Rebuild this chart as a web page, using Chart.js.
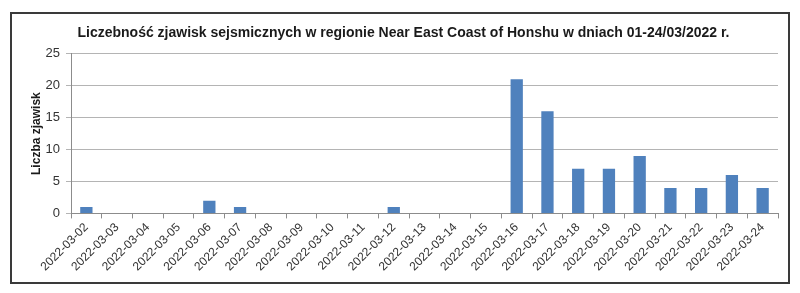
<!DOCTYPE html>
<html lang="pl">
<head>
    <meta charset="UTF-8">
    <title>Liczebność zjawisk sejsmicznych</title>
    <script src="https://cdn.jsdelivr.net/npm/chart.js"></script>
    <style>
        body { margin: 0; background: #fff; }
        #box {
            position: absolute; left: 10px; top: 12px;
            width: 776px; height: 268px;
            border: 2px solid #3a3a3a;
        }
    </style>
</head>
<body>

<div id="box">
    <canvas id="chart"></canvas>
</div>

<script>
    // dane
    const days = ['2022-03-02', '2022-03-03', '2022-03-04', '2022-03-05', '2022-03-06', '2022-03-07',
        '2022-03-08', '2022-03-09', '2022-03-10', '2022-03-11', '2022-03-12', '2022-03-13',
        '2022-03-14', '2022-03-15', '2022-03-16', '2022-03-17', '2022-03-18', '2022-03-19',
        '2022-03-20', '2022-03-21', '2022-03-22', '2022-03-23', '2022-03-24'];
    const counts = [1, 0, 0, 0, 2, 1, 0, 0, 0, 0, 1, 0, 0, 0, 21, 16, 7, 7, 9, 4, 4, 6, 4];

    const ctx = document.getElementById('chart').getContext('2d');
    new Chart(ctx, {
        type: 'bar',
        data: {
            labels: days,
            datasets: [{
                label: 'Liczba zjawisk',
                data: counts,
                backgroundColor: '#4f81bd',
                categoryPercentage: 1,
                barPercentage: 0.4
            }]
        },
        options: {
            responsive: true,
            maintainAspectRatio: false,
            animation: false,
            layout: { padding: { left: 17, right: 10, top: 0, bottom: 6 } },
            plugins: {
                legend: { display: false },
                tooltip: { enabled: false },
                title: {
                    display: true,
                    text: 'Liczebność zjawisk sejsmicznych w regionie Near East Coast of Honshu w dniach 01-24/03/2022 r.',
                    color: '#1a1a1a',
                    font: { family: 'Liberation Sans', size: 14, weight: 'bold' },
                    padding: { top: 11, bottom: 12 }
                }
            },
            scales: {
                x: {
                    grid: {
                        offset: true,
                        drawOnChartArea: false,
                        tickLength: 5,
                        color: '#8c8c8c'
                    },
                    border: { color: '#8c8c8c' },
                    ticks: {
                        minRotation: 45,
                        maxRotation: 45,
                        autoSkip: false,
                        color: '#333',
                        padding: 2,
                        font: { family: 'Liberation Sans', size: 12 }
                    }
                },
                y: {
                    min: 0,
                    max: 25,
                    ticks: {
                        stepSize: 5,
                        color: '#333',
                        padding: 6,
                        font: { family: 'Liberation Sans', size: 13 }
                    },
                    grid: { color: '#b4b4b4', tickLength: 5 },
                    border: { color: '#8c8c8c' },
                    title: {
                        display: true,
                        text: 'Liczba zjawisk',
                        color: '#1a1a1a',
                        font: { family: 'Liberation Sans', size: 12, weight: 'bold' },
                        padding: { top: 0, bottom: 6 }
                    },
                    afterFit: (scale) => { scale.width = 42; }
                }
            }
        }
    });
</script>
</body>
</html>
